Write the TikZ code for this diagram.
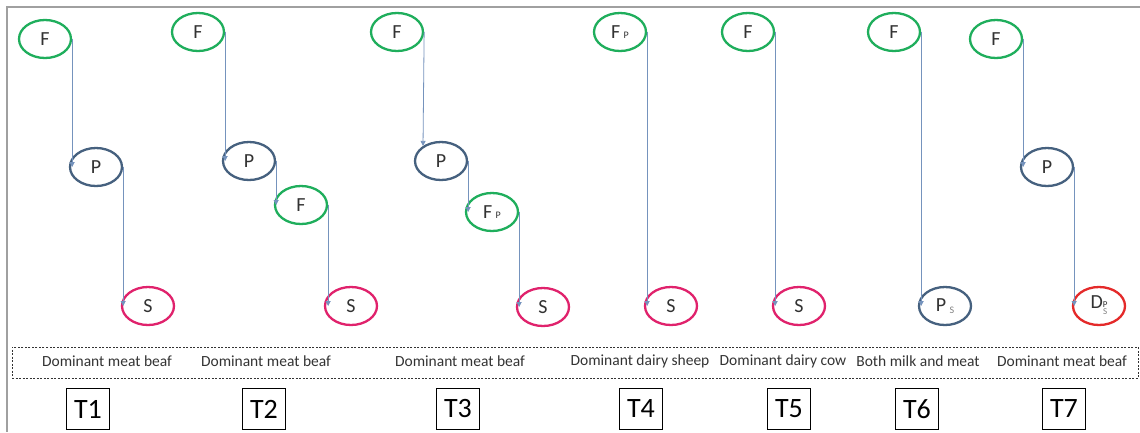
\documentclass[tikz,border=0pt]{standalone}
\usepackage{fontspec}
\setmainfont{Carlito}
\usetikzlibrary{shapes.geometric,arrows.meta}
\definecolor{cgreen}{HTML}{1FAE5C}
\definecolor{cblue}{HTML}{46617F}
\definecolor{cpink}{HTML}{E0226C}
\definecolor{cred}{HTML}{E42A2A}
\definecolor{cline}{HTML}{7593BD}
\definecolor{ctext}{HTML}{333333}
\definecolor{cframe}{HTML}{A0A0A0}
\tikzset{
  x=1pt,y=-1pt,
  oval/.style={ellipse,draw,line width=2.3pt,minimum width=52pt,minimum height=38pt,inner sep=0pt,
    font=\fontsize{20}{20}\selectfont,text=ctext},
  fo/.style={oval,draw=cgreen},
  po/.style={oval,draw=cblue},
  so/.style={oval,draw=cpink},
  do/.style={oval,draw=cred},
  conn/.style={draw=cline,line width=0.8pt,-{Triangle[length=5pt,width=5pt]}},
  lab/.style={font=\fontsize{15.5}{16}\selectfont,text=ctext},
  tbox/.style={draw,line width=1.4pt,minimum width=43pt,minimum height=41pt,inner sep=0pt,
    font=\fontsize{28}{28}\selectfont,text=black},
}
\newcommand{\smsub}[1]{\,{\fontsize{10}{10}\selectfont #1}}
\newcommand{\stackps}{{\fontsize{9}{8}\selectfont\begin{tabular}{@{}c@{}}P\\[-1pt]\color{gray}S\end{tabular}}}
\begin{document}
\begin{tikzpicture}
\useasboundingbox (0,0) rectangle (1140,432);
\fill[white] (0,0) rectangle (1140,432);
% frame
\draw[cframe,line width=2pt] (1140,7) -- (7,7) -- (7,432);
% T1
\node[fo] (f1) at (45,39) {F};
\node[po] (p1) at (96,167) {P};
\node[so] (s1) at (148,306) {S};
\draw[conn] (f1.east) -- (f1.east |- p1.west);
\draw[conn] (p1.east) -- (p1.east |- s1.west);
% T2
\node[fo] (f2) at (198,32) {F};
\node[po] (p2) at (249,161) {P};
\node[fo] (g2) at (301,205) {F};
\node[so] (s2) at (351,306) {S};
\draw[conn] (f2.east) -- (f2.east |- p2.west);
\draw[conn] (p2.east) -- (p2.east |- g2.west);
\draw[conn] (g2.east) -- (g2.east |- s2.west);
% T3
\node[fo] (f3) at (397,32) {F};
\node[po] (p3) at (441,161) {P};
\node[fo] (g3) at (492,212) {F\smsub{P}};
\node[so] (s3) at (543,307) {S};
\draw[conn] (f3.east) -- (p3.140);
\draw[conn] (p3.east) -- (p3.east |- g3.west);
\draw[conn] (g3.east) -- (g3.east |- s3.west);
% T4
\node[fo] (f4) at (620,32) {F\smsub{P}};
\node[so] (s4) at (671,306) {S};
\draw[conn] (f4.east) -- (f4.east |- s4.west);
% T5
\node[fo] (f5) at (748,32) {F};
\node[so] (s5) at (799,306) {S};
\draw[conn] (f5.east) -- (f5.east |- s5.west);
% T6
\node[fo] (f6) at (894,32) {F};
\node[po] (p6) at (945,306) {P\,{\fontsize{10}{10}\selectfont\color{gray}\raisebox{-2pt}{S}}};
\draw[conn] (f6.east) -- (f6.east |- p6.west);
% T7
\node[fo] (f7) at (996,39) {F};
\node[po] (p7) at (1047,167) {P};
\node[do] (d7) at (1099,306) {D\raisebox{-3pt}{\stackps}};
\draw[conn] (f7.east) -- (f7.east |- p7.west);
\draw[conn] (p7.east) -- (p7.east |- d7.west);
% dashed box
\node[draw=ctext,dash pattern=on 2pt off 1.5pt,line width=0.7pt,minimum width=1126pt,minimum height=31pt,inner sep=0pt] (band) at (575,362.5) {};
% labels
\node[lab] (l1) at (107,361) {Dominant meat beaf};
\node[lab] (l2) at (266,361) {Dominant meat beaf};
\node[lab] (l3) at (460,361) {Dominant meat beaf};
\node[lab] (l4) at (640,361) {Dominant dairy sheep};
\node[lab] (l5) at (783,361) {Dominant dairy cow};
\node[lab] (l6) at (918,361) {Both milk and meat};
\node[lab] (l7) at (1062,361) {Dominant meat beaf};
% T boxes
\node[tbox] (t1) at (88,409) {T1};
\node[tbox] (t2) at (264,409) {T2};
\node[tbox] (t3) at (458,409) {T3};
\node[tbox] (t4) at (641,409) {T4};
\node[tbox] (t5) at (789,409) {T5};
\node[tbox] (t6) at (917,409) {T6};
\node[tbox] (t7) at (1064,409) {T7};
\end{tikzpicture}
\end{document}
